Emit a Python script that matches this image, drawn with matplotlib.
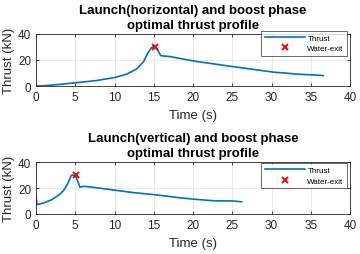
import numpy as np
import matplotlib
matplotlib.use("Agg")
import matplotlib.pyplot as plt

plt.rcParams['font.family'] = ['Liberation Sans', 'DejaVu Sans']

# horizontal launch
t_h = [0, 1, 2.6, 3.9, 5.2, 7.7, 10, 11.5, 12.8, 13.7, 14.3, 14.7, 15.0, 15.3,
       15.9, 17.1, 20.3, 25.1, 30.2, 33.6, 35.3, 36.6]
f_h = [0, 0.2, 1.0, 1.8, 2.6, 4.2, 6.5, 9.0, 13.0, 18.7, 26.0, 29.5, 30.3, 29.5,
       23.3, 22.6, 19.0, 14.9, 10.7, 9.0, 8.5, 8.0]
exit_h = (15.2, 30)

# vertical launch
t_v = [0, 0.12, 1, 2, 3, 3.5, 4, 4.5, 5.0, 5.6, 6.2, 8, 10.2, 12.5, 15.2, 18.3,
       20.3, 22.6, 25.1, 26.2]
f_v = [14.4, 7.2, 8.5, 11.0, 15.0, 18.0, 23.0, 29.8, 30.0, 20.8, 21.3, 20.0,
       18.2, 16.4, 14.8, 12.5, 11.3, 10.2, 10.0, 9.4]
exit_v = (5.05, 30)

titles = ['Launch(horizontal) and boost phase\noptimal thrust profile',
          'Launch(vertical) and boost phase\noptimal thrust profile']

fig = plt.figure(figsize=(3.6, 2.55), dpi=100)
W, H = 360, 255

panels = [(t_h, f_h, exit_h, 35, 87, 31.5), (t_v, f_v, exit_v, 163, 215, 164)]
for i, (t, f, ex, ytop, ybot, legtop) in enumerate(panels):
    ax = fig.add_axes([36 / W, 1 - ybot / H, 314 / W, (ybot - ytop) / H])
    ax.plot(t, f, color='#0072BD', lw=1.2, label='Thrust')
    ax.plot(ex[0], ex[1], 'x', color='red', ms=4.5, mew=1.4, label='Water-exit')
    ax.set_xlim(0, 40)
    ax.set_ylim(0, 40)
    ax.set_xticks(range(0, 41, 5))
    ax.set_yticks([0, 20, 40])
    ax.grid(True, color='#e6e6e6', lw=0.6)
    ax.set_axisbelow(True)
    ax.tick_params(direction='in', top=True, right=True, length=2.5,
                   width=0.6, labelsize=8.5, pad=3.5, colors='#262626')
    for s in ax.spines.values():
        s.set_linewidth(0.6)
        s.set_color('#262626')
    ax.set_xlabel('Time (s)', fontsize=9.5, labelpad=4.5, color='#262626')
    ax.set_ylabel('Thrust (kN)', fontsize=9.5, labelpad=2, color='#262626')
    ax.set_title(titles[i], fontsize=9.5, fontweight='bold', pad=4,
                 linespacing=1.4)
    leg = ax.legend(loc='upper left', bbox_to_anchor=(261 / W, 1 - legtop / H),
                    bbox_transform=fig.transFigure, fontsize=5.8, frameon=True,
                    fancybox=False, handlelength=5.0, handletextpad=0.3,
                    borderpad=0.45, labelspacing=0.35, borderaxespad=0)
    leg.get_frame().set_edgecolor('#262626')
    leg.get_frame().set_linewidth(0.6)

fig.savefig('out.png', dpi=100)
